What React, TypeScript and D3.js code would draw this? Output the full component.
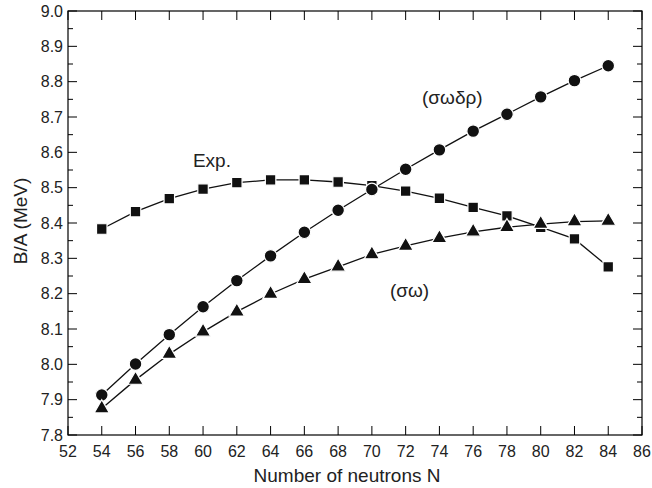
import React, { useEffect, useRef } from 'react';
import * as d3 from 'd3';

// neutron numbers
const neutrons = [54, 56, 58, 60, 62, 64, 66, 68, 70, 72, 74, 76, 78, 80, 82, 84];
// experimental B/A (squares)
const expValues = [8.383, 8.432, 8.469, 8.496, 8.514, 8.522, 8.522, 8.516, 8.506, 8.490, 8.470, 8.444, 8.420, 8.388, 8.355, 8.276];
// (sigma omega delta rho) model (circles)
const swdrValues = [7.913, 8.001, 8.084, 8.163, 8.237, 8.307, 8.374, 8.436, 8.495, 8.552, 8.607, 8.660, 8.708, 8.757, 8.803, 8.845];
// (sigma omega) model (triangles)
const swValues = [7.875, 7.956, 8.029, 8.092, 8.149, 8.199, 8.241, 8.276, 8.311, 8.335, 8.357, 8.375, 8.388, 8.397, 8.404, 8.406];

const xTicks = d3.range(52, 87, 2);
const yTicks = d3.range(7.8, 9.0001, 0.1);
const yMinor = d3.range(7.85, 9.0, 0.1);

const W = 652;
const H = 488;
const margin = { top: 11, right: 10, bottom: 53, left: 68 };

export default function App() {
  const ref = useRef<SVGSVGElement>(null);

  useEffect(() => {
    const svg = d3.select(ref.current);
    svg.selectAll('*').remove();
    const width = W - margin.left - margin.right;
    const height = H - margin.top - margin.bottom;

    const x = d3.scaleLinear().domain([52, 86]).range([0, width]);
    const y = d3.scaleLinear().domain([7.8, 9.0]).range([height, 0]);

    const g = svg.append('g').attr('transform', `translate(${margin.left},${margin.top})`);
    const font = 'Liberation Sans, Arial, sans-serif';

    // frame
    g.append('rect').attr('width', width).attr('height', height)
      .attr('fill', 'none').attr('stroke', '#000').attr('stroke-width', 1.2);

    // ticks (inward)
    const major = 9, minor = 5;
    xTicks.forEach(t => {
      g.append('line').attr('x1', x(t)).attr('x2', x(t)).attr('y1', height).attr('y2', height - major).attr('stroke', '#000');
      g.append('line').attr('x1', x(t)).attr('x2', x(t)).attr('y1', 0).attr('y2', major).attr('stroke', '#000');
      g.append('text').attr('x', x(t)).attr('y', height + 22).attr('text-anchor', 'middle')
        .attr('font-family', font).attr('font-size', 16).attr('fill', '#222').text(t);
    });
    yTicks.forEach(t => {
      g.append('line').attr('x1', 0).attr('x2', major).attr('y1', y(t)).attr('y2', y(t)).attr('stroke', '#000');
      g.append('line').attr('x1', width).attr('x2', width - major).attr('y1', y(t)).attr('y2', y(t)).attr('stroke', '#000');
      g.append('text').attr('x', -5).attr('y', y(t)).attr('dy', '0.35em').attr('text-anchor', 'end')
        .attr('font-family', font).attr('font-size', 16).attr('fill', '#222').text(t.toFixed(1));
    });
    yMinor.forEach(t => {
      g.append('line').attr('x1', 0).attr('x2', minor).attr('y1', y(t)).attr('y2', y(t)).attr('stroke', '#000');
      g.append('line').attr('x1', width).attr('x2', width - minor).attr('y1', y(t)).attr('y2', y(t)).attr('stroke', '#000');
    });

    // axis titles
    g.append('text').attr('x', width / 2 - 8).attr('y', height + 47).attr('text-anchor', 'middle')
      .attr('font-family', font).attr('font-size', 19).attr('fill', '#222').text('Number of neutrons N');
    g.append('text').attr('transform', `translate(${-41},${height / 2 - 2}) rotate(-90)`).attr('text-anchor', 'middle')
      .attr('font-family', font).attr('font-size', 19).attr('fill', '#222').text('B/A (MeV)');

    const line = d3.line<number>().x((d, i) => x(neutrons[i])).y(d => y(d));
    const series = [
      { vals: expValues, sym: d3.symbolSquare, size: 110 },
      { vals: swdrValues, sym: d3.symbolCircle, size: 125 },
      { vals: swValues, sym: d3.symbolTriangle, size: 100 },
    ];
    series.forEach(s => {
      g.append('path').datum(s.vals).attr('d', line).attr('fill', 'none').attr('stroke', '#111').attr('stroke-width', 1.3);
    });
    series.forEach(s => {
      g.selectAll(null).data(s.vals).enter().append('path')
        .attr('transform', (d, i) => `translate(${x(neutrons[i])},${y(d)})`)
        .attr('d', d3.symbol().type(s.sym).size(s.size)())
        .attr('fill', '#111').attr('stroke', '#fff').attr('stroke-width', 1.2);
    });

    // annotations
    const ann = [
      { text: 'Exp.', n: 59.4, v: 8.558 },
      { text: '(σωδρ)', n: 72.97, v: 8.737 },
      { text: '(σω)', n: 71.07, v: 8.191 },
    ];
    ann.forEach(a => {
      g.append('text').attr('x', x(a.n)).attr('y', y(a.v)).attr('font-family', font).attr('font-size', 19)
        .attr('fill', '#222').text(a.text);
    });
  }, []);

  return <svg ref={ref} width={W} height={H} style={{ display: 'block', position: 'absolute', left: 0, top: 0 }} />;
}
